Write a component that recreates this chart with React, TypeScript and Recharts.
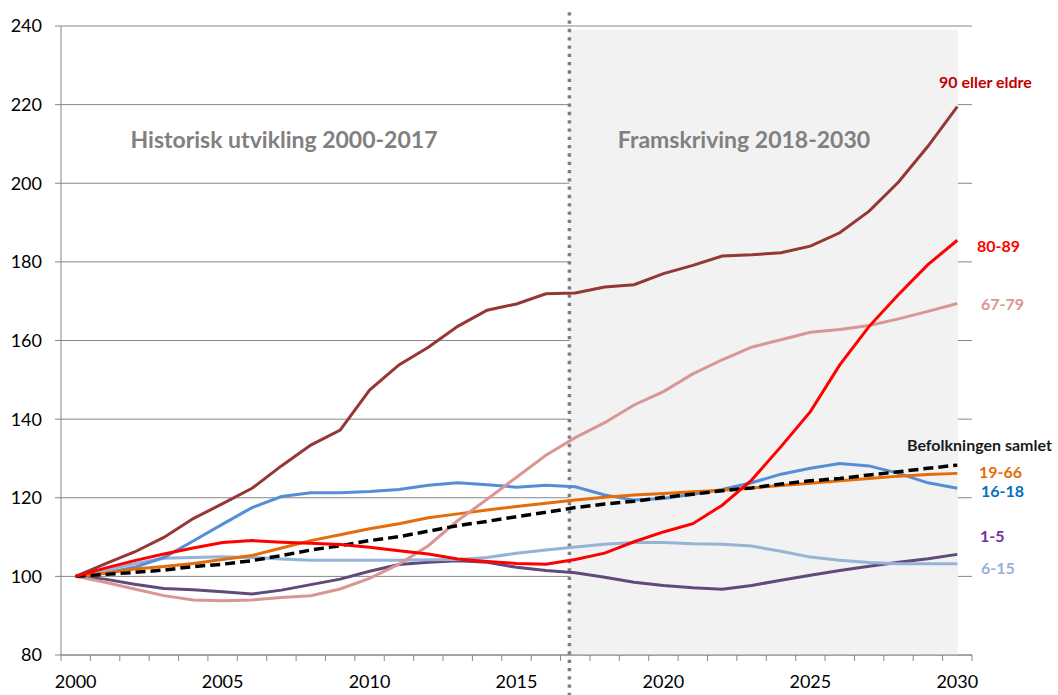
import React from "react";
import {
  LineChart,
  Line,
  XAxis,
  YAxis,
  CartesianGrid,
  ReferenceArea,
  ReferenceLine,
} from "recharts";

// år (kategorier)
const years = [
  2000, 2001, 2002, 2003, 2004, 2005, 2006, 2007, 2008, 2009, 2010,
  2011, 2012, 2013, 2014, 2015, 2016, 2017, 2018, 2019, 2020,
  2021, 2022, 2023, 2024, 2025, 2026, 2027, 2028, 2029, 2030,
];

// indeks, 2000 = 100
const age90 = [
  100, 103.2, 106.2, 109.9, 114.7, 118.5, 122.4, 128.1, 133.4, 137.2, 147.4,
  153.8, 158.3, 163.6, 167.7, 169.3, 171.9, 172.1, 173.6, 174.2, 177,
  179.1, 181.5, 181.8, 182.3, 184, 187.4, 192.9, 200.3, 209.4, 219.5,
];
const age80 = [
  100, 102.1, 104, 105.7, 107.2, 108.6, 109.1, 108.7, 108.4, 108.1, 107.4,
  106.5, 105.7, 104.4, 103.8, 103.3, 103.1, 104.3, 105.9, 108.8, 111.3,
  113.4, 118.1, 124.5, 133, 141.9, 153.8, 163.6, 171.7, 179.3, 185.5,
];
const age67 = [
  100, 98.5, 96.8, 95.1, 94, 93.8, 94, 94.6, 95.1, 96.8, 99.5,
  103.1, 107.8, 114.2, 119.6, 125.2, 130.8, 135.3, 139.1, 143.6, 147,
  151.5, 155.1, 158.3, 160.2, 162.1, 162.8, 163.8, 165.5, 167.4, 169.4,
];
const age19 = [
  100, 100.8, 101.9, 102.5, 103.3, 104.3, 105.3, 107.2, 109.1, 110.6, 112.1,
  113.4, 114.9, 115.9, 116.9, 117.8, 118.6, 119.4, 120.1, 120.7, 121.1,
  121.5, 121.9, 122.5, 123.1, 123.7, 124.3, 124.9, 125.5, 125.9, 126.2,
];
const age16 = [
  100, 100.8, 102.3, 104.8, 109, 113.3, 117.5, 120.3, 121.3, 121.3, 121.6,
  122.1, 123.2, 123.8, 123.3, 122.7, 123.2, 122.8, 120.7, 119.4, 119.8,
  120.9, 122.1, 123.8, 126, 127.5, 128.7, 128.1, 126.2, 123.8, 122.4,
];
const age6 = [
  100, 101.6, 103.2, 104.6, 104.8, 105, 104.8, 104.4, 104.1, 104.1, 104.1,
  104.1, 104.2, 104.3, 104.8, 105.9, 106.7, 107.5, 108.2, 108.6, 108.6,
  108.3, 108.2, 107.7, 106.4, 104.9, 104.1, 103.5, 103.2, 103.2, 103.2,
];
const age1 = [
  100, 99.3, 98, 96.9, 96.6, 96.1, 95.5, 96.5, 97.9, 99.3, 101.3,
  103, 103.6, 104, 103.6, 102.3, 101.5, 100.9, 99.8, 98.5, 97.7,
  97.1, 96.7, 97.7, 99, 100.3, 101.5, 102.6, 103.6, 104.5, 105.6,
];
const total = [
  100, 100.5, 101, 101.6, 102.5, 103.1, 104, 105.3, 106.7, 107.8, 109.1,
  110.1, 111.5, 112.9, 114, 115.2, 116.3, 117.5, 118.4, 119.1, 120.1,
  120.9, 121.8, 122.5, 123.5, 124.3, 124.9, 125.8, 126.6, 127.5, 128.3,
];

const yTicks = [80, 100, 120, 140, 160, 180, 200, 220, 240];
const labelYears = [2000, 2005, 2010, 2015, 2020, 2025, 2030];

const data = years.map((year, i) => ({
  year,
  age90: age90[i],
  age80: age80[i],
  age67: age67[i],
  age19: age19[i],
  age16: age16[i],
  age6: age6[i],
  age1: age1[i],
  total: total[i],
}));

// tick marks sit between the years, like an Excel category axis
const boundaries = [years[0] - 0.5, ...years.map((y) => y + 0.5)];

const W = 1058;
const H = 695;
const PLOT_LEFT = 61;
const PLOT_RIGHT = 972;
const HALF_BAND = (PLOT_RIGHT - PLOT_LEFT) / years.length / 2;
const FONT = "Lato, 'Open Sans', sans-serif";
const AXIS_GRAY = "#868686";

const XTick = (props: any) => {
  const { x, y, payload } = props;
  const yr = payload.value + 0.5;
  if (!labelYears.includes(yr)) return <g />;
  return (
    <text
      x={x + HALF_BAND}
      y={y}
      dy="0.71em"
      textAnchor="middle"
      fontFamily={FONT}
      fontSize={18}
      fill="#000"
    >
      {yr}
    </text>
  );
};

const labels = [
  { text: "90 eller eldre", x: 939, y: 88, color: "#C00000" },
  { text: "80-89", x: 977, y: 252, color: "#FF0000" },
  { text: "67-79", x: 981, y: 310, color: "#D99694" },
  { text: "Befolkningen samlet", x: 907, y: 451, color: "#1A1A1A" },
  { text: "19-66", x: 979, y: 478, color: "#E46C0A" },
  { text: "16-18", x: 981, y: 497, color: "#0070C0" },
  { text: "1-5", x: 980, y: 542, color: "#7030A0" },
  { text: "6-15", x: 981, y: 574, color: "#95B3D7" },
];

export default function App() {
  return (
    <div style={{ position: "absolute", left: 0, top: 0, width: W, height: H, background: "#fff" }}>
      <LineChart
        width={W}
        height={H}
        data={data}
        margin={{ top: 26, right: W - PLOT_RIGHT, bottom: 0, left: 0 }}
      >
        <ReferenceArea
          x1={2016.8}
          x2={2030.02}
          y1={80}
          y2={239}
          fill="#F2F2F2"
          fillOpacity={1}
          stroke="none"
        />
        <CartesianGrid vertical={false} stroke={AXIS_GRAY} strokeWidth={1} />
        <XAxis
          dataKey="year"
          type="number"
          domain={[boundaries[0], boundaries[boundaries.length - 1]]}
          ticks={boundaries}
          interval={0}
          height={40}
          stroke={AXIS_GRAY}
          tickSize={6}
          tickMargin={14}
          tick={<XTick />}
        />
        <YAxis
          domain={[80, 240]}
          ticks={yTicks}
          interval={0}
          width={PLOT_LEFT}
          stroke={AXIS_GRAY}
          tickSize={6}
          tickMargin={13}
          tick={{ fill: "#000", fontSize: 18, fontFamily: FONT }}
        />
        <ReferenceLine
          segment={[
            { x: 2016.8, y: 243.5 },
            { x: 2016.8, y: 69 },
          ]}
          ifOverflow="visible"
          stroke="#7F7F7F"
          strokeWidth={3.5}
          strokeDasharray="3.3 5"
        />
        <Line type="linear" dataKey="age1" stroke="#604A7B" strokeWidth={3} dot={false} isAnimationActive={false} />
        <Line type="linear" dataKey="age6" stroke="#95B3D7" strokeWidth={3} dot={false} isAnimationActive={false} />
        <Line type="linear" dataKey="age16" stroke="#558ED5" strokeWidth={3} dot={false} isAnimationActive={false} />
        <Line type="linear" dataKey="age19" stroke="#E46C0A" strokeWidth={3} dot={false} isAnimationActive={false} />
        <Line type="linear" dataKey="age67" stroke="#D99694" strokeWidth={3} dot={false} isAnimationActive={false} />
        <Line type="linear" dataKey="age90" stroke="#953735" strokeWidth={3} dot={false} isAnimationActive={false} />
        <Line
          type="linear"
          dataKey="total"
          stroke="#000"
          strokeWidth={3.5}
          strokeDasharray="10 5"
          dot={false}
          isAnimationActive={false}
        />
        <Line type="linear" dataKey="age80" stroke="#FF0000" strokeWidth={3} dot={false} isAnimationActive={false} />
      </LineChart>
      <svg
        width={W}
        height={H}
        style={{ position: "absolute", left: 0, top: 0, pointerEvents: "none" }}
      >
        <text x={284} y={148} textAnchor="middle" fontFamily={FONT} fontWeight="bold" fontSize={23} fill="#808080">
          Historisk utvikling 2000-2017
        </text>
        <text x={744} y={148} textAnchor="middle" fontFamily={FONT} fontWeight="bold" fontSize={23} fill="#808080">
          Framskriving 2018-2030
        </text>
        {labels.map((l) => (
          <text key={l.text} x={l.x} y={l.y} fontFamily={FONT} fontWeight="bold" fontSize={16} fill={l.color}>
            {l.text}
          </text>
        ))}
      </svg>
    </div>
  );
}
